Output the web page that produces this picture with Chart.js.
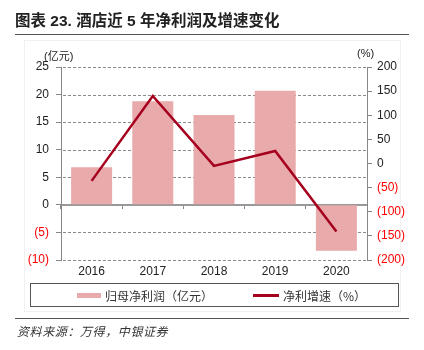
<!DOCTYPE html>
<html>
<head>
<meta charset="utf-8">
<script src="https://cdn.jsdelivr.net/npm/chart.js@4.4.0/dist/chart.umd.min.js"></script>
<style>
  html, body { margin: 0; padding: 0; background: #fff; }
  #wrap { position: relative; width: 424px; height: 350px; overflow: hidden;
    font-family: 'Liberation Sans', 'Noto Sans CJK SC', sans-serif; color: #222; }
  #frame { position: absolute; left: 24px; top: 40px; width: 377px; height: 272px; border: 1px solid #f0f0f0; box-sizing: border-box; }
  #chart { position: absolute; left: 0; top: 0; }
  .abs { position: absolute; white-space: nowrap; }
  #title { left: 15px; top: 8px; font-size: 15.5px; font-weight: bold; font-family: 'Liberation Sans', 'Noto Sans CJK SC', sans-serif; }
  .rule { position: absolute; left: 15px; width: 394px; height: 0; border-top: 1px solid #555; }
  .unit { font-size: 11px; top: 47px; font-family: 'Liberation Sans', 'Noto Sans CJK SC', sans-serif; }
  #legend { position: absolute; left: 30px; top: 283px; width: 369px; height: 24px; border: 1px solid #555; box-sizing: border-box; font-size: 12px; font-family: 'Noto Sans CJK SC', sans-serif; color: #333; background: #fff; }
  .sw { position: absolute; }
  #source { left: 17px; top: 322px; font-size: 12px; letter-spacing: 0.6px; font-style: italic; font-family: 'Noto Sans CJK SC', sans-serif; color: #333; }
</style>
</head>
<body>
<div id="wrap">
  <div id="frame"></div>
  <canvas id="chart" width="424" height="350"></canvas>
  <div id="title" class="abs">图表 23. 酒店近 5 年净利润及增速变化</div>
  <div class="rule" style="top:34px"></div>
  <div class="abs unit" style="left:44px">(亿元)</div>
  <div class="abs unit" style="left:357px">(%)</div>
  <div id="legend">
    <div class="sw" style="left:46px; top:9px; width:24px; height:5px; background:#e8aaaa"></div>
    <div class="abs" style="left:74px; top:3px">归母净利润（亿元）</div>
    <div class="sw" style="left:222px; top:10px; width:26px; height:3px; background:#a6001f"></div>
    <div class="abs" style="left:252px; top:3px">净利增速（%）</div>
  </div>
  <div class="rule" style="top:318px"></div>
  <div id="source" class="abs">资料来源：万得，中银证券</div>
</div>
<script>
  const years = ['2016', '2017', '2018', '2019', '2020'];
  const netProfit = [6.8, 18.8, 16.3, 20.7, -8.3];    // 亿元
  const growthRate = [-36, 140, -5, 26, -141];         // %
  const leftTicks = { min: -10, max: 25, step: 5 };
  const rightTicks = { min: -200, max: 200, step: 50 };

  const negRed = '#ff0000';
  const axisGray = '#888';
  const tickFont = { family: "'Liberation Sans', Arial, sans-serif", size: 12 };

  function paren(v) {
    return v < 0 ? '(' + Math.abs(v) + ')' : String(v);
  }
  function tickColor(ctx) {
    return ctx.tick && ctx.tick.value < 0 ? negRed : '#222';
  }

  // dashed horizontal grid (dashes as small rects) + solid zero line, placed with the left scale
  const gridLines = {
    id: 'gridLines',
    beforeDatasetsDraw(chart) {
      const y = chart.scales.y, area = chart.chartArea, ctx = chart.ctx;
      ctx.save();
      for (let v = leftTicks.min; v <= leftTicks.max; v += leftTicks.step) {
        const py = Math.round(y.getPixelForValue(v));
        if (v === 0) {
          ctx.fillStyle = '#999';
          ctx.fillRect(area.left, py, area.right - area.left, 1);
          continue;
        }
        ctx.fillStyle = '#8a8a8a';
        for (let x = area.left + 2; x < area.right; x += 5) {
          ctx.fillRect(x, py, Math.min(3, area.right - x), 1);
        }
      }
      ctx.restore();
    }
  };

  new Chart(document.getElementById('chart'), {
    data: {
      labels: years,
      datasets: [
        {
          type: 'line',
          label: '净利增速（%）',
          data: growthRate,
          yAxisID: 'y1',
          borderColor: '#a6001f',
          borderWidth: 2.5,
          pointRadius: 0,
          tension: 0,
          order: 0
        },
        {
          type: 'bar',
          label: '归母净利润（亿元）',
          data: netProfit,
          yAxisID: 'y',
          backgroundColor: '#e8aaaa',
          categoryPercentage: 1,
          barPercentage: 0.67,
          order: 1
        }
      ]
    },
    plugins: [gridLines],
    options: {
      responsive: false,
      animation: false,
      layout: { padding: { top: 67, bottom: 66, left: 0, right: 0 } },
      plugins: { legend: { display: false }, tooltip: { enabled: false } },
      scales: {
        x: {
          position: 'bottom',
          grid: { display: false, drawTicks: false },
          border: { display: false },
          ticks: { color: '#222', font: tickFont, padding: 4, maxRotation: 0 },
          afterFit: s => { s.height = 24; }
        },
        xZero: {
          type: 'category',
          axis: 'x',
          position: { y: 0 },
          labels: years,
          offset: true,
          grid: { offset: true, drawOnChartArea: false, drawTicks: true, tickLength: 4, tickColor: axisGray },
          border: { display: true, color: '#999', width: 1 },
          ticks: { display: false }
        },
        y: {
          position: 'left',
          min: leftTicks.min,
          max: leftTicks.max,
          ticks: { stepSize: leftTicks.step, callback: paren, color: tickColor, font: tickFont, padding: 7 },
          grid: { drawOnChartArea: false, tickColor: axisGray, tickLength: 5, drawTicks: true },
          border: { display: true, color: axisGray },
          afterFit: s => { s.width = 61; }
        },
        y1: {
          position: 'right',
          min: rightTicks.min,
          max: rightTicks.max,
          ticks: { stepSize: rightTicks.step, callback: paren, color: tickColor, font: tickFont, padding: 5 },
          grid: { drawOnChartArea: false, tickColor: axisGray, tickLength: 5, drawTicks: true },
          border: { display: true, color: axisGray },
          afterFit: s => { s.width = 57; }
        }
      }
    }
  });
</script>
</body>
</html>
